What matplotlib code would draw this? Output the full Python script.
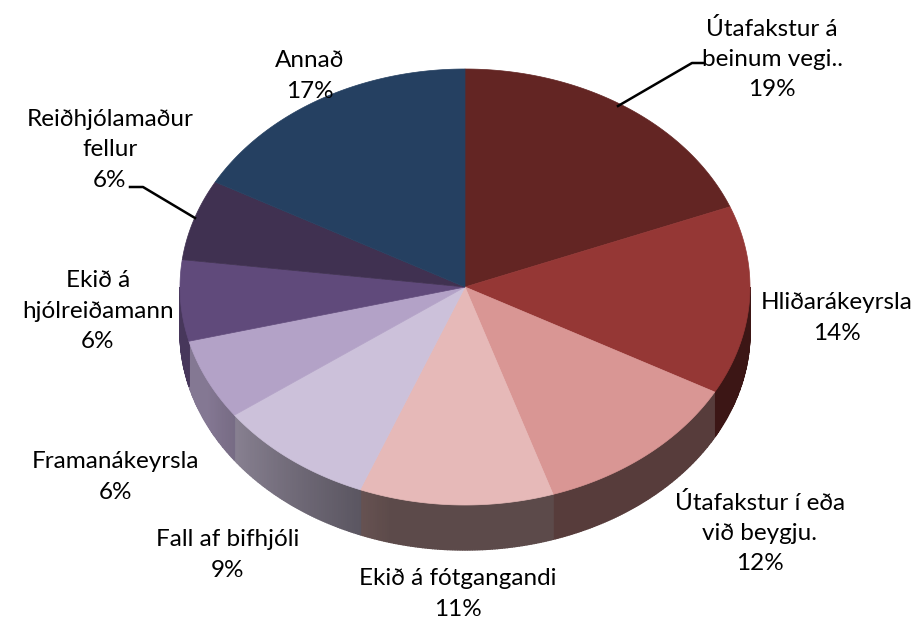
import numpy as np
import matplotlib.pyplot as plt
from matplotlib.patches import Polygon

plt.rcParams['font.family'] = ['Lato', 'DejaVu Sans']

# slysaflokkar og hlutfall
flokkar = ['Útafakstur á\nbeinum vegi..', 'Hliðarákeyrsla', 'Útafakstur í eða\nvið beygju.',
           'Ekið á fótgangandi', 'Fall af bifhjóli', 'Framanákeyrsla',
           'Ekið á\nhjólreiðamann', 'Reiðhjólamaður\nfellur', 'Annað']
hlutfall = [19, 14, 12, 11, 9, 6, 6, 6, 17]
litir = ['#632523', '#953735', '#d99694', '#e6b9b8', '#ccc1da',
         '#b3a2c7', '#604a7b', '#403151', '#254061']

# staðsetning merkja (miðja textablokkar)
merki_xy = [(772, 59), (837, 318), (760, 533), (458, 594), (228, 555),
            (115, 477), (98, 311), (110, 150), (310, 76)]

W, H = 917, 621
cx, cy, rx, ry, dypt = 465, 287, 285, 218, 45

fig = plt.figure(figsize=(W / 100, H / 100), dpi=100)
ax = fig.add_axes([0, 0, 1, 1])
ax.set_xlim(0, W)
ax.set_ylim(H, 0)
ax.axis('off')


def rim(theta):
    # horn í gráðum réttsælis frá toppi
    t = np.radians(theta)
    return cx + rx * np.sin(t), cy - ry * np.cos(t)


def skuggi(theta):
    # hliðin lýsist upp vinstra megin
    if theta <= 195:
        return 0.40
    if theta >= 245:
        return 0.74
    return 0.40 + 0.34 * (theta - 195) / 50


mork = np.concatenate([[0], np.cumsum(hlutfall)]) / sum(hlutfall) * 360

# hlið kökunnar (aðeins framhliðin sést)
skref = 0.5
for th in np.arange(90, 270, skref):
    i = np.searchsorted(mork, th + skref / 2) - 1
    base = np.array(plt.matplotlib.colors.to_rgb(litir[i]))
    c = np.clip(base * skuggi(th + skref / 2), 0, 1)
    x0, y0 = rim(th)
    x1, y1 = rim(th + skref)
    ax.add_patch(Polygon([(x0, y0), (x1, y1), (x1, y1 + dypt), (x0, y0 + dypt)],
                         closed=True, facecolor=c, edgecolor=c, lw=1.0))

# toppflötur
for i in range(len(hlutfall)):
    hh = np.linspace(mork[i], mork[i + 1], 80)
    pts = [(cx, cy)] + [rim(h) for h in hh]
    ax.add_patch(Polygon(pts, closed=True, facecolor=litir[i], edgecolor=litir[i], lw=0.5))

# merki
for i, (x, y) in enumerate(merki_xy):
    ax.text(x, y, f'{flokkar[i]}\n{hlutfall[i]}%', ha='center', va='center',
            fontsize=17.5, linespacing=1.55, color='black')

# leiðarlínur
ax.plot([618, 692, 703], [106, 63, 63], color='black', lw=1.8)
ax.plot([130, 143, 195], [187, 187, 218], color='black', lw=1.8)

fig.savefig('out.png', dpi=100, facecolor='white')
